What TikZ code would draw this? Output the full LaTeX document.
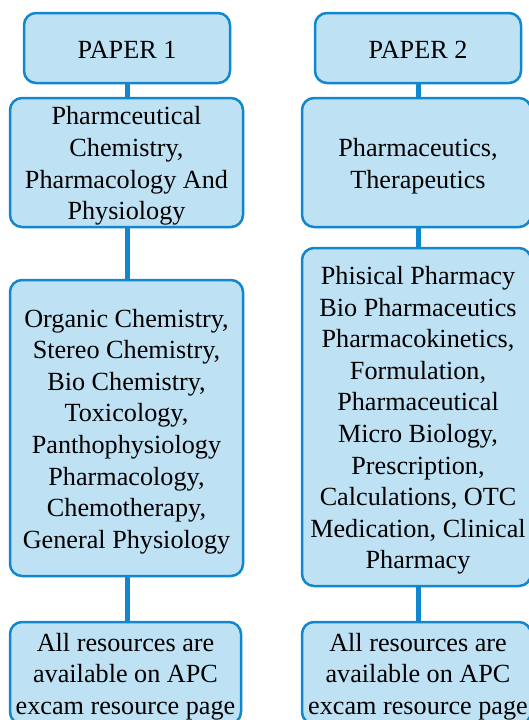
\documentclass[tikz,border=0pt]{standalone}
\usepackage{fontspec}
\setmainfont{Liberation Serif}
\definecolor{boxline}{HTML}{1088D0}
\definecolor{boxfill}{HTML}{BFE1F4}
\begin{document}
\begin{tikzpicture}[x=1pt,y=-1pt,
  box/.style={draw=boxline, fill=boxfill, line width=2.5pt, rounded corners=12pt,
    inner sep=0pt},
  txt/.style={inner sep=0pt, align=center, font=\fontsize{26.2}{31.6}\selectfont},
  link/.style={draw=boxline, line width=5pt}]
\useasboundingbox (0,0) rectangle (529,720);
\clip (0,0) rectangle (529,720);
% left column
\node[box, minimum width=206pt, minimum height=70pt] (p1) at (127,48) {};
\node[box, minimum width=233pt, minimum height=129pt] (l2) at (126.5,162.5) {};
\node[box, minimum width=233pt, minimum height=296pt] (l3) at (126.5,428) {};
\node[box, minimum width=231pt, minimum height=102pt] (l4) at (125.5,673) {};
\node[txt] (p1t) at ([yshift=-2pt]p1.center) {PAPER 1};
\node[txt] (l2t) at ([yshift=-3.5pt]l2.center)
  {Pharmceutical\\Chemistry,\\Pharmacology And\\Physiology};
\node[txt] (l3t) at ([yshift=-3.5pt]l3.center)
  {Organic Chemistry,\\Stereo Chemistry,\\Bio Chemistry,\\Toxicology,\\Panthophysiology\\Pharmacology,\\Chemotherapy,\\General Physiology};
\node[txt] (l4t) at ([yshift=-3.5pt]l4.center)
  {All resources are\\available on APC\\excam resource page};
% right column
\node[box, minimum width=206pt, minimum height=70pt] (p2) at (418,48) {};
\node[box, minimum width=229pt, minimum height=129pt] (r2) at (416.5,162.5) {};
\node[box, minimum width=229pt, minimum height=338pt] (r3) at (416.5,417) {};
\node[box, minimum width=229pt, minimum height=102pt] (r4) at (416.5,673) {};
\node[txt] (p2t) at ([yshift=-2pt]p2.center) {PAPER 2};
\node[txt] (r2t) at ([xshift=1.5pt,yshift=-3.5pt]r2.center)
  {Pharmaceutics,\\Therapeutics};
\node[txt] (r3t) at ([xshift=1.5pt,yshift=-3.5pt]r3.center)
  {Phisical Pharmacy\\Bio Pharmaceutics\\Pharmacokinetics,\\Formulation,\\Pharmaceutical\\Micro Biology,\\Prescription,\\Calculations, OTC\\Medication, Clinical\\Pharmacy};
\node[txt] (r4t) at ([xshift=1.5pt,yshift=-3.5pt]r4.center)
  {All resources are\\available on APC\\excam resource page};
% connectors
\draw[link] (p1.south) -- (p1.south |- l2.north);
\draw[link] (p1.south |- l2.south) -- (p1.south |- l3.north);
\draw[link] (p1.south |- l3.south) -- (p1.south |- l4.north);
\draw[link] (p2.south) -- (p2.south |- r2.north);
\draw[link] (p2.south |- r2.south) -- (p2.south |- r3.north);
\draw[link] (p2.south |- r3.south) -- (p2.south |- r4.north);
\end{tikzpicture}
\end{document}
